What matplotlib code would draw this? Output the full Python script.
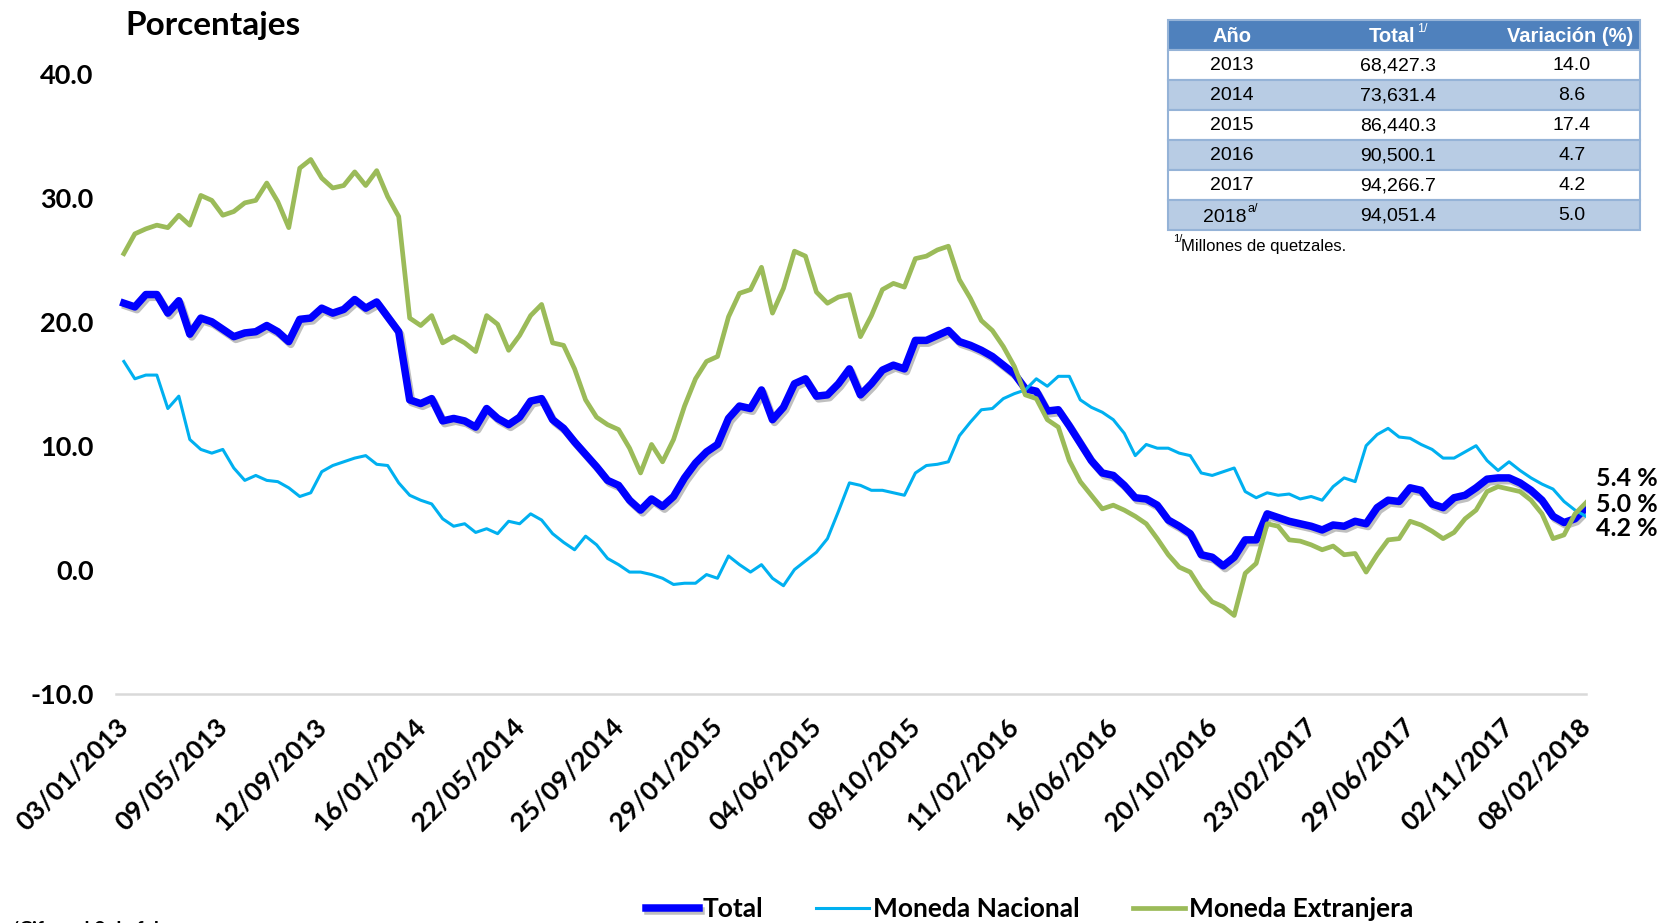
import matplotlib
matplotlib.use("Agg")
import matplotlib.pyplot as plt
import matplotlib.patheffects as pe
from matplotlib.patches import Rectangle
import pandas as pd

# Colores
BLUE = "#0000FF"
LIGHT_BLUE = "#00B0F0"
GREEN = "#9BBB59"
HEADER = "#4F81BD"
ROW_ALT = "#B8CCE4"
BORDER = "#95B3D7"

plt.rcParams["font.family"] = ["Lato", "DejaVu Sans"]

W, H = 1665, 923

# Datos (cada dos semanas desde 03/01/2013 hasta 08/02/2018)
fechas = pd.date_range("2013-01-03", periods=134, freq="14D")

total = [21.5, 21.2, 22.2, 22.2, 20.7, 21.7, 19.0, 20.3, 20.0, 19.4,
         18.8, 19.1, 19.2, 19.7, 19.2, 18.4, 20.2, 20.3, 21.1, 20.7,
         21.0, 21.8, 21.1, 21.6, 20.4, 19.2, 13.7, 13.4, 13.8, 12.0,
         12.2, 12.0, 11.5, 13.0, 12.2, 11.7, 12.3, 13.6, 13.8, 12.1,
         11.4, 10.3, 9.3, 8.3, 7.2, 6.8, 5.6, 4.8, 5.7, 5.1,
         5.9, 7.4, 8.6, 9.5, 10.1, 12.2, 13.2, 13.0, 14.5, 12.1,
         13.1, 15.0, 15.4, 14.0, 14.1, 15.0, 16.2, 14.1, 15.0, 16.1,
         16.5, 16.2, 18.5, 18.5, 18.9, 19.3, 18.4, 18.1, 17.7, 17.2,
         16.5, 15.8, 14.6, 14.4, 12.8, 12.9, 11.6, 10.2, 8.8, 7.8,
         7.6, 6.8, 5.8, 5.7, 5.2, 4.0, 3.5, 2.9, 1.2, 1.0,
         0.3, 1.0, 2.4, 2.4, 4.5, 4.2, 3.9, 3.7, 3.5, 3.2,
         3.6, 3.5, 3.9, 3.7, 5.0, 5.6, 5.5, 6.6, 6.4, 5.3,
         5.0, 5.8, 6.0, 6.6, 7.3, 7.4, 7.4, 7.0, 6.4, 5.6,
         4.3, 3.8, 4.1, 5.0]

nacional = [16.8, 15.4, 15.7, 15.7, 13.0, 14.0, 10.5, 9.7, 9.4, 9.7,
            8.2, 7.2, 7.6, 7.2, 7.1, 6.6, 5.9, 6.2, 7.9, 8.4,
            8.7, 9.0, 9.2, 8.5, 8.4, 7.0, 6.0, 5.6, 5.3, 4.1,
            3.5, 3.7, 3.0, 3.3, 2.9, 3.9, 3.7, 4.5, 4.0, 2.9,
            2.2, 1.6, 2.7, 2.0, 0.9, 0.4, -0.2, -0.2, -0.4, -0.7,
            -1.2, -1.1, -1.1, -0.4, -0.7, 1.1, 0.4, -0.2, 0.4, -0.7,
            -1.3, 0.0, 0.7, 1.4, 2.5, 4.7, 7.0, 6.8, 6.4, 6.4,
            6.2, 6.0, 7.8, 8.4, 8.5, 8.7, 10.8, 11.9, 12.9, 13.0,
            13.8, 14.2, 14.5, 15.4, 14.8, 15.6, 15.6, 13.7, 13.1, 12.7,
            12.1, 11.0, 9.2, 10.1, 9.8, 9.8, 9.4, 9.2, 7.8, 7.6,
            7.9, 8.2, 6.3, 5.8, 6.2, 6.0, 6.1, 5.7, 5.9, 5.6,
            6.7, 7.4, 7.1, 10.0, 10.9, 11.4, 10.7, 10.6, 10.1, 9.7,
            9.0, 9.0, 9.5, 10.0, 8.8, 8.0, 8.7, 8.0, 7.4, 6.9,
            6.5, 5.5, 4.8, 4.3]

extranjera = [25.5, 27.1, 27.5, 27.8, 27.6, 28.6, 27.8, 30.2, 29.8, 28.6,
              28.9, 29.6, 29.8, 31.2, 29.7, 27.6, 32.4, 33.1, 31.6, 30.8,
              31.0, 32.1, 31.0, 32.2, 30.1, 28.5, 20.3, 19.7, 20.5, 18.3,
              18.8, 18.3, 17.6, 20.5, 19.8, 17.7, 18.9, 20.5, 21.4, 18.3,
              18.1, 16.2, 13.7, 12.3, 11.7, 11.3, 9.8, 7.8, 10.1, 8.7,
              10.5, 13.2, 15.4, 16.8, 17.2, 20.4, 22.3, 22.6, 24.4, 20.7,
              22.7, 25.7, 25.3, 22.4, 21.5, 22.0, 22.2, 18.8, 20.5, 22.6,
              23.1, 22.8, 25.1, 25.3, 25.8, 26.1, 23.4, 21.9, 20.1, 19.3,
              18.0, 16.4, 14.1, 13.8, 12.1, 11.5, 8.8, 7.1, 6.0, 4.9,
              5.2, 4.8, 4.3, 3.7, 2.5, 1.2, 0.2, -0.2, -1.6, -2.6,
              -3.0, -3.7, -0.3, 0.5, 3.7, 3.5, 2.4, 2.3, 2.0, 1.6,
              1.9, 1.2, 1.3, -0.2, 1.2, 2.4, 2.5, 3.9, 3.6, 3.1,
              2.5, 3.0, 4.1, 4.8, 6.3, 6.7, 6.5, 6.3, 5.6, 4.5,
              2.5, 2.8, 4.5, 5.4]

tick_labels = ["03/01/2013", "09/05/2013", "12/09/2013", "16/01/2014",
               "22/05/2014", "25/09/2014", "29/01/2015", "04/06/2015",
               "08/10/2015", "11/02/2016", "16/06/2016", "20/10/2016",
               "23/02/2017", "29/06/2017", "02/11/2017", "08/02/2018"]

end_labels = ["5.4 %", "5.0 %", "4.2 %"]

# Tabla
anios = ["2013", "2014", "2015", "2016", "2017", "2018"]
totales = ["68,427.3", "73,631.4", "86,440.3", "90,500.1", "94,266.7", "94,051.4"]
variaciones = ["14.0", "8.6", "17.4", "4.7", "4.2", "5.0"]


def fx(px):
    return px / W


def fy(py):
    return 1 - py / H


fig = plt.figure(figsize=(W / 100, H / 100), dpi=100)
ax = fig.add_axes([fx(116), fy(693.5), fx(1586) - fx(116), fy(74) - fy(693.5)])

ax.plot(fechas, total, color=BLUE, lw=5.4, solid_joinstyle="round", zorder=3,
        label="Total",
        path_effects=[pe.SimpleLineShadow(offset=(1.5, -2), shadow_color="black", alpha=0.25),
                      pe.Normal()])
ax.plot(fechas, nacional, color=LIGHT_BLUE, lw=2.2, zorder=4, label="Moneda Nacional")
ax.plot(fechas, extranjera, color=GREEN, lw=3.4, zorder=5, label="Moneda Extranjera")

ax.set_ylim(-10, 40)
ax.set_yticks([-10, 0, 10, 20, 30, 40])
ax.set_yticklabels([f"{v:.1f}" for v in [-10, 0, 10, 20, 30, 40]],
                   fontsize=19.5, fontweight="bold")
ax.set_xlim(fechas[0] - pd.Timedelta(days=10), fechas[-1])
ticks = pd.to_datetime(tick_labels, dayfirst=True)
ax.set_xticks(ticks)
ax.set_xticklabels([])
# etiquetas de fecha rotadas, ancladas en cada marca
for t, lbl in zip(ticks, tick_labels):
    ax.annotate(lbl, xy=(t, 0), xycoords=("data", "axes fraction"),
                xytext=(-5.5, -15), textcoords="offset points",
                rotation=45, rotation_mode="anchor", ha="right", va="top",
                fontsize=19, fontweight="bold", annotation_clip=False)
ax.tick_params(axis="both", length=0)
ax.tick_params(axis="y", pad=16)
for s in ["top", "right", "left"]:
    ax.spines[s].set_visible(False)
ax.spines["bottom"].set_color("#D9D9D9")
ax.spines["bottom"].set_linewidth(1.8)

fig.text(fx(125), fy(26), "Porcentajes", fontsize=24, fontweight="bold",
         ha="left", va="center")

for lbl, py in zip(end_labels, [479, 504, 529]):
    fig.text(fx(1596), fy(py), lbl, fontsize=18, fontweight="bold",
             ha="left", va="center")

# Tabla de la esquina superior derecha
tf = ["Liberation Sans", "DejaVu Sans"]
x0, x1 = 1168, 1640
row_h = 30
top = 20
fig.patches.append(Rectangle((fx(x0), fy(top + row_h)), fx(x1) - fx(x0), row_h / H,
                             transform=fig.transFigure, facecolor=HEADER,
                             edgecolor=BORDER, lw=1.5))
col_x = [1232, 1395, 1570]
fig.text(fx(col_x[0]), fy(top + 16), "Año", family=tf, fontsize=14.5,
         fontweight="bold", color="white", ha="center", va="center")
fig.text(fx(1392), fy(top + 17), "Total", family=tf, fontsize=14.5,
         fontweight="bold", color="white", ha="center", va="center")
fig.text(fx(1417), fy(top + 9), "1/", family=tf, fontsize=9,
         color="white", ha="left", va="center")
fig.text(fx(col_x[2]), fy(top + 16), "Variación (%)", family=tf, fontsize=14.5,
         fontweight="bold", color="white", ha="center", va="center")

for i, (a, t, v) in enumerate(zip(anios, totales, variaciones)):
    ry = top + row_h * (i + 1)
    face = "white" if i % 2 == 0 else ROW_ALT
    fig.patches.append(Rectangle((fx(x0), fy(ry + row_h)), fx(x1) - fx(x0), row_h / H,
                                 transform=fig.transFigure, facecolor=face,
                                 edgecolor=BORDER, lw=1.5))
    cy = fy(ry + row_h / 2 + 1)
    if i == len(anios) - 1:
        fig.text(fx(1247), cy - 1.5 / H, a, family=tf, fontsize=14, ha="right", va="center")
        fig.text(fx(1248), fy(ry + 9), "a/", family=tf, fontsize=9,
                 ha="left", va="center")
    else:
        fig.text(fx(col_x[0]), cy, a, family=tf, fontsize=14, ha="center", va="center")
    fig.text(fx(1398), cy, t, family=tf, fontsize=14, ha="center", va="center")
    fig.text(fx(1572), cy, v, family=tf, fontsize=14, ha="center", va="center")

fig.text(fx(1173), fy(239), "1/", family=tf, fontsize=8, ha="left", va="center")
fig.text(fx(1181), fy(246), "Millones de quetzales.", family=tf, fontsize=12,
         ha="left", va="center")

# Nota al pie cortada
fig.text(fx(0), fy(930), "a/Cifras al 8 de febrero.", fontsize=14,
         fontweight="bold", ha="left", va="center")

leg = fig.legend(loc="center", bbox_to_anchor=(fx(1030), fy(909)), ncol=3,
                 frameon=False, prop={"size": 19, "weight": "bold"},
                 handlelength=2.0, handletextpad=0.15, columnspacing=2.0)

fig.savefig("out.png", dpi=100)
